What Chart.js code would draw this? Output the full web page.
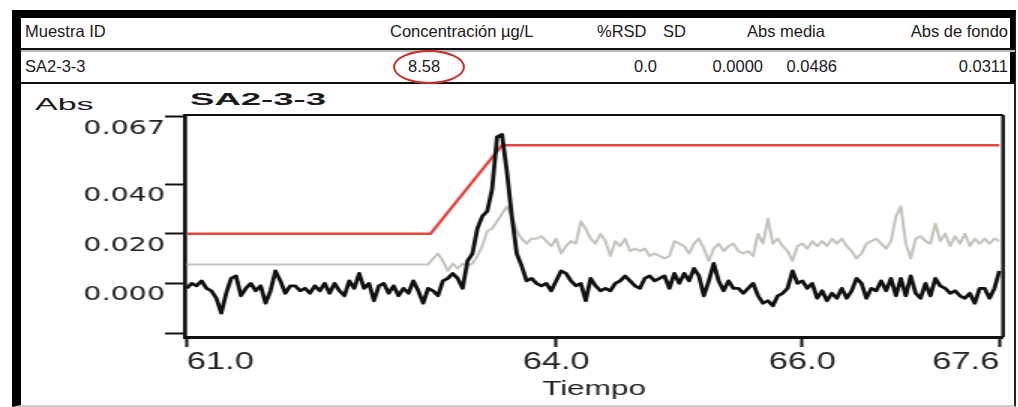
<!DOCTYPE html>
<html>
<head>
<meta charset="utf-8">
<script src="https://cdn.jsdelivr.net/npm/chart.js@4.4.0/dist/chart.umd.min.js"></script>
<style>
  body { margin: 0; width: 1018px; height: 407px; overflow: hidden; position: relative; background: #fff;
         font-family: 'Liberation Sans', Arial, sans-serif; color: #1a1a1a; }
  .frame { position: absolute; left: 12px; top: 10px; width: 1004px; height: 397px; box-sizing: border-box;
           border-top: 8px solid #000; border-left: 9px solid #000; border-right: 2px solid #222; border-bottom: 2px solid #ccc; }
  .row { position: absolute; left: 21px; width: 994px; box-sizing: border-box; border-right: 5px solid #000; }
  .cell { position: absolute; font-size: 16.5px; line-height: 16px; white-space: nowrap; }
  .sep { position: absolute; left: 21px; width: 994px; }
  .circle { position: absolute; left: 393px; top: 50px; width: 72px; height: 34px; box-sizing: border-box;
            border: 2px solid #c9302c; border-radius: 50%; }
  #wrap { position: absolute; left: 0; top: 0; width: 679px; height: 407px; transform: scaleX(1.5); transform-origin: 0 0; }
  .lbl { position: absolute; line-height: 17px; font-size: 17px; white-space: nowrap; transform-origin: 0 0; color: #1a1a1a; }
</style>
</head>
<body>
<div class="frame"></div>
<div class="row" style="top:18px;height:30px;"></div>
<div class="sep" style="top:48px;height:2px;background:#111;"></div>
<div class="sep" style="top:50px;height:2px;background:#bbb;"></div>
<div class="row" style="top:52px;height:30px;"></div>
<div class="sep" style="top:82px;height:2px;background:#111;"></div>

<span class="cell" style="left:25px;top:23px;">Muestra ID</span>
<span class="cell" style="left:390px;top:23px;">Concentración µg/L</span>
<span class="cell" style="left:597px;top:23px;">%RSD</span>
<span class="cell" style="left:663px;top:23px;">SD</span>
<span class="cell" style="left:747px;top:23px;">Abs media</span>
<span class="cell" style="right:10px;top:23px;">Abs de fondo</span>

<span class="cell" style="left:25px;top:58px;">SA2-3-3</span>
<span class="cell" style="left:408px;top:58px;">8.58</span>
<span class="cell" style="right:361px;top:58px;">0.0</span>
<span class="cell" style="right:255px;top:58px;">0.0000</span>
<span class="cell" style="right:181px;top:58px;">0.0486</span>
<span class="cell" style="right:10px;top:58px;">0.0311</span>
<div class="circle"></div>

<span class="lbl" style="left:35px;top:96px;transform:scaleX(2);">Abs</span>
<span class="lbl" style="left:190px;top:91px;font-weight:bold;transform:scaleX(2.15);">SA2-3-3</span>

<div id="wrap"><canvas id="chart"></canvas></div>

<script>
// time grid of the instrument trace (minutes)
const tStart = 61.0;
const tStep = 0.04;

// Abs traces, one value per time step
const blackValues = [
  -0.002, 0.000, -0.001, 0.001, -0.002, -0.003, -0.006, -0.012, -0.004, 0.002,
  0.003, -0.005, -0.002, 0.000, -0.003, -0.001, -0.008, -0.003, 0.005, 0.001,
  -0.004, -0.001, -0.001, -0.003, -0.002, -0.004, -0.001, -0.003, 0.000, -0.004,
  0.000, -0.003, -0.005, 0.001, -0.002, 0.004, -0.002, 0.000, -0.007, -0.001,
  0.000, -0.004, -0.001, -0.005, -0.002, -0.004, 0.001, -0.003, -0.008, -0.002,
  -0.003, -0.005, 0.001, 0.002, 0.004, 0.002, -0.002, 0.009, 0.012, 0.022,
  0.027, 0.029, 0.038, 0.059, 0.060, 0.045, 0.027, 0.012, 0.007, 0.001,
  0.002, 0.000, -0.001, 0.000, -0.003, 0.001, 0.005, 0.004, 0.001, -0.001,
  0.000, -0.007, 0.002, -0.001, -0.003, -0.002, -0.003, 0.000, 0.001, 0.003,
  0.001, -0.001, -0.002, 0.002, 0.003, 0.001, 0.002, 0.003, -0.002, 0.004,
  0.000, 0.004, 0.001, 0.006, 0.003, -0.005, 0.001, 0.008, 0.001, -0.003,
  0.001, -0.002, -0.002, -0.004, -0.002, 0.000, -0.005, -0.008, -0.007, -0.009,
  -0.005, -0.004, -0.002, 0.005, 0.000, 0.001, -0.002, 0.000, -0.006, -0.003,
  -0.007, -0.004, -0.006, -0.002, -0.006, -0.003, 0.002, 0.000, -0.006, -0.002,
  -0.003, 0.001, -0.003, 0.002, -0.005, 0.002, -0.005, 0.003, -0.004, -0.006,
  0.000, -0.005, 0.002, -0.001, -0.002, -0.004, -0.003, -0.005, -0.006, -0.004,
  -0.008, -0.002, -0.002, -0.006, -0.002, 0.005
];

const grayValues = [
  0.0076, 0.0076, 0.0076, 0.0076, 0.0076, 0.0076, 0.0076, 0.0076, 0.0076, 0.0076,
  0.0076, 0.0076, 0.0076, 0.0076, 0.0076, 0.0076, 0.0076, 0.0076, 0.0076, 0.0076,
  0.0076, 0.0076, 0.0076, 0.0076, 0.0076, 0.0076, 0.0076, 0.0076, 0.0076, 0.0076,
  0.0076, 0.0076, 0.0076, 0.0076, 0.0076, 0.0076, 0.0076, 0.0076, 0.0076, 0.0076,
  0.0076, 0.0076, 0.0076, 0.0076, 0.0076, 0.0076, 0.0076, 0.0076, 0.0076, 0.0076,
  0.010, 0.012, 0.009, 0.005, 0.008, 0.006, 0.008, 0.007, 0.008, 0.011,
  0.015, 0.021, 0.022, 0.025, 0.028, 0.031, 0.027, 0.021, 0.018, 0.016,
  0.018, 0.018, 0.019, 0.017, 0.015, 0.018, 0.012, 0.015, 0.017, 0.016,
  0.025, 0.022, 0.018, 0.016, 0.020, 0.017, 0.011, 0.017, 0.015, 0.018,
  0.013, 0.014, 0.013, 0.014, 0.011, 0.012, 0.011, 0.010, 0.011, 0.017,
  0.016, 0.015, 0.012, 0.016, 0.018, 0.014, 0.009, 0.014, 0.016, 0.013,
  0.015, 0.016, 0.013, 0.012, 0.013, 0.011, 0.020, 0.016, 0.026, 0.016,
  0.018, 0.015, 0.013, 0.009, 0.015, 0.016, 0.014, 0.017, 0.015, 0.017,
  0.015, 0.018, 0.016, 0.018, 0.015, 0.013, 0.010, 0.012, 0.016, 0.017,
  0.018, 0.016, 0.014, 0.017, 0.027, 0.031, 0.016, 0.010, 0.018, 0.019,
  0.017, 0.016, 0.024, 0.017, 0.020, 0.015, 0.019, 0.016, 0.020, 0.015,
  0.018, 0.016, 0.018, 0.016, 0.018, 0.017
];

// integration baseline (red)
const redTimes = [61.0, 62.98, 63.56, 67.6];
const redValues = [0.020, 0.020, 0.0556, 0.0556];

const xTicks = [61.0, 64.0, 66.0, 67.6];
const xTickLabels = ['61.0', '64.0', '66.0', '67.6'];
const yTicks = [-0.020, 0.000, 0.020, 0.040, 0.067];
const yTickLabels = ['', '0.000', '0.020', '0.040', '0.067'];

const timeAt = i => +(tStart + i * tStep).toFixed(2);
const toPoints = values => values.map((v, i) => ({ x: timeAt(i), y: v }));

const framePlugin = {
  id: 'frame',
  afterDatasetsDraw(chart) {
    const { ctx, chartArea: a } = chart;
    ctx.save();
    ctx.strokeStyle = '#111';
    ctx.lineWidth = 2;
    ctx.beginPath();
    ctx.moveTo(a.left, a.top);
    ctx.lineTo(a.right, a.top);
    ctx.stroke();
    ctx.lineWidth = 2.4;
    ctx.beginPath();
    ctx.moveTo(a.right, a.top);
    ctx.lineTo(a.right, a.bottom);
    ctx.stroke();
    ctx.restore();
  }
};

new Chart(document.getElementById('chart'), {
  type: 'line',
  data: {
    datasets: [
      { data: toPoints(blackValues), borderColor: '#111', borderWidth: 2.8 },
      { data: toPoints(grayValues), borderColor: '#c3c4bb', borderWidth: 2 },
      { data: redTimes.map((t, i) => ({ x: t, y: redValues[i] })), borderColor: '#e5453d', borderWidth: 2.4 }
    ]
  },
  options: {
    animation: false,
    responsive: true,
    maintainAspectRatio: false,
    layout: { padding: { top: 115, right: 10.3, bottom: 0, left: 0 } },
    elements: { point: { radius: 0 }, line: { tension: 0, borderJoinStyle: 'round' } },
    plugins: { legend: { display: false }, tooltip: { enabled: false } },
    scales: {
      x: {
        type: 'linear',
        min: 60.985,
        max: 67.63,
        afterBuildTicks: ax => { ax.ticks = xTicks.map(v => ({ value: v })); },
        afterFit: ax => { ax.height = 70; },
        ticks: {
          align: 'inner', padding: 2, maxRotation: 0, autoSkip: false, color: '#222',
          font: { family: 'Liberation Sans', size: 23 },
          callback: (v, i) => xTickLabels[i]
        },
        grid: { drawOnChartArea: false, tickLength: 10, tickWidth: 2, tickColor: '#111' },
        border: { color: '#111', width: 3 },
        title: { display: true, text: 'Tiempo', color: '#222', padding: { top: 0, bottom: 5 },
                 font: { family: 'Liberation Sans', size: 21 } }
      },
      y: {
        min: -0.0216,
        max: 0.0678,
        afterBuildTicks: ax => { ax.ticks = yTicks.map(v => ({ value: v })); },
        afterFit: ax => { ax.width = 123.3; },
        ticks: {
          labelOffset: 12, padding: 0, color: '#222',
          font: { family: 'DejaVu Sans', size: 19 },
          callback: (v, i) => yTickLabels[i]
        },
        grid: { drawOnChartArea: false, tickLength: 13.3, tickWidth: 2, tickColor: '#111' },
        border: { color: '#111', width: 2.7 }
      }
    }
  },
  plugins: [framePlugin]
});
</script>
</body>
</html>
